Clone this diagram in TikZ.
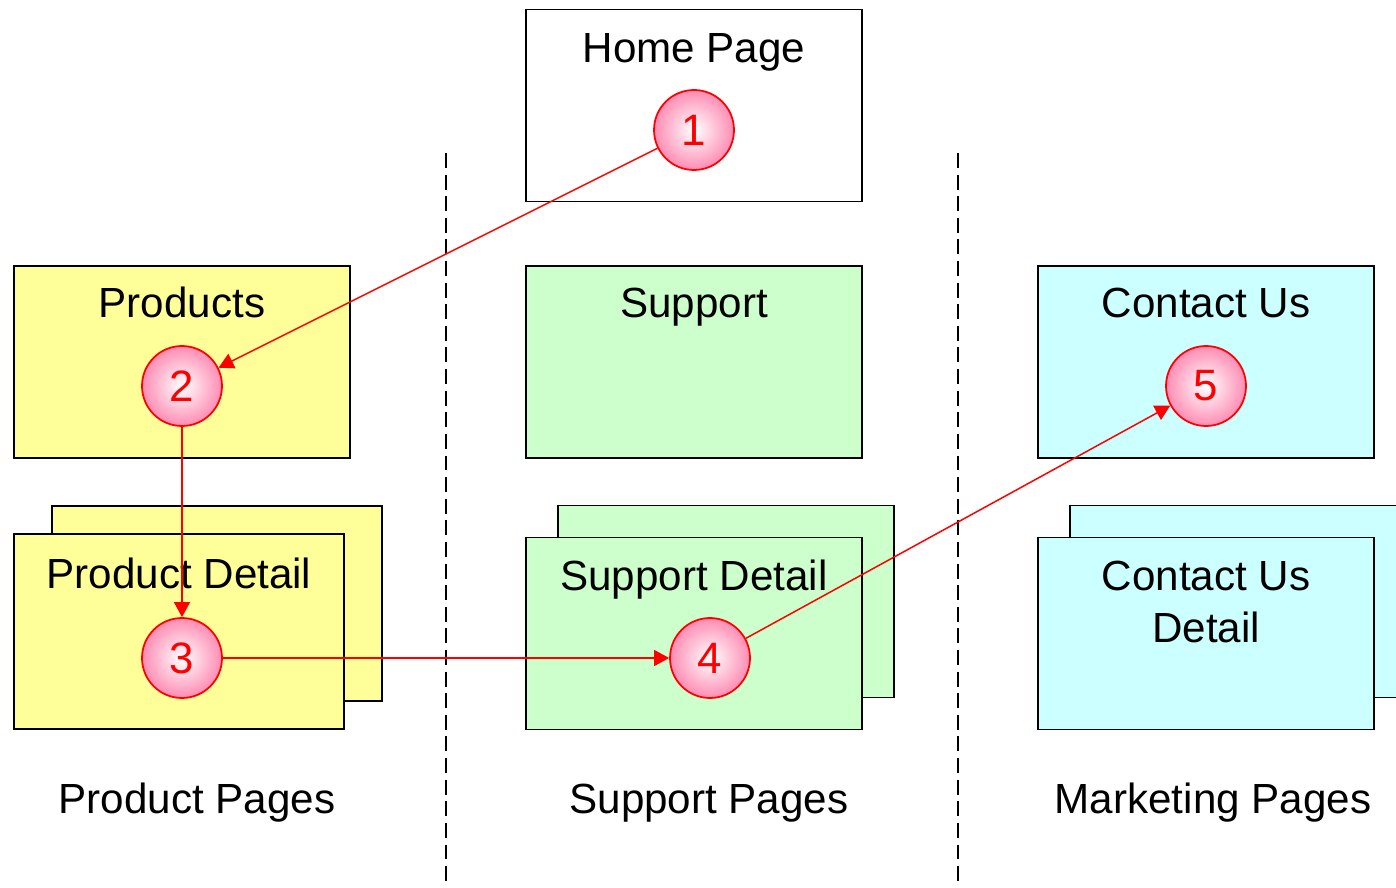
\documentclass[tikz,border=0pt]{standalone}
\usepackage{fontspec}
\setmainfont{Liberation Sans}
\usetikzlibrary{arrows.meta}
\definecolor{prodyellow}{RGB}{255,255,153}
\definecolor{suppgreen}{RGB}{204,255,204}
\definecolor{contcyan}{RGB}{204,255,255}
\definecolor{ringpink}{RGB}{255,140,180}
\begin{document}
\begin{tikzpicture}[x=0.02cm, y=-0.02cm,
	page/.style={draw, line width=1.1pt, minimum width=6.72cm, minimum height=3.84cm, inner sep=0pt},
	title/.style={anchor=base, align=center, font=\fontsize{24}{29.5}\selectfont},
	stepnum/.style={circle, draw=red, line width=1pt, shade, inner color=white, outer color=ringpink, minimum size=1.6cm, inner sep=0pt, text=red, font=\fontsize{25}{29}\selectfont},
	flow/.style={-{Triangle[length=0.3cm, width=0.32cm]}, red, line width=0.85pt},
	lane/.style={dash pattern=on 8.5pt off 3.8pt, line width=1.1pt}]
	\useasboundingbox (0,0) rectangle (1396,888);

	\draw[lane] (446,153) -- (446,888);
	\draw[lane] (958,153) -- (958,888);

	% top row
	\node[page, fill=white] (home) at (694,105.5) {};
	\node[page, fill=prodyellow] (prod) at (182,362) {};
	\node[page, fill=suppgreen] (supp) at (694,362) {};
	\node[page, fill=contcyan] (cont) at (1206,362) {};

	% detail pages (back sheet, then front sheet)
	\node[page, fill=prodyellow, minimum width=6.6cm, minimum height=3.9cm] (proddetb) at (217,603.5) {};
	\node[page, fill=prodyellow, minimum width=6.6cm, minimum height=3.9cm] (proddet) at (179,631.5) {};
	\node[page, fill=suppgreen] (suppdetb) at (726,601.5) {};
	\node[page, fill=suppgreen] (suppdet) at (694,633.5) {};
	\node[page, fill=contcyan] (contdetb) at (1238,601.5) {};
	\node[page, fill=contcyan] (contdet) at (1206,633.5) {};

	\node[title] (hometxt) at (694,63) {Home Page};
	\node[title] (prodtxt) at (182,318) {Products};
	\node[title] (supptxt) at (694,318) {Support};
	\node[title] (conttxt) at (1206,318) {Contact Us};
	\node[title] (proddettxt) at (179,588) {Product Detail};
	\node[title] (suppdettxt) at (694,590) {Support Detail};
	\node[title] (contdettxt) at (1206,642) {Contact Us\\Detail};

	\node[title] (prodpages) at (197,813) {Product Pages};
	\node[title] (supppages) at (709,813) {Support Pages};
	\node[title] (mktpages) at (1213,813) {Marketing Pages};

	% numbered steps
	\node[stepnum] (s1) at (694,130) {1};
	\node[stepnum] (s2) at (182,386) {2};
	\node[stepnum] (s3) at (182,658) {3};
	\node[stepnum] (s4) at (710,658) {4};
	\node[stepnum] (s5) at (1206,386) {5};

	\draw[flow] (s1) -- (s2);
	\draw[flow] (s2) -- (s3);
	\draw[flow] (s3) -- (s4);
	\draw[flow] (s4) -- (s5);
\end{tikzpicture}
\end{document}
